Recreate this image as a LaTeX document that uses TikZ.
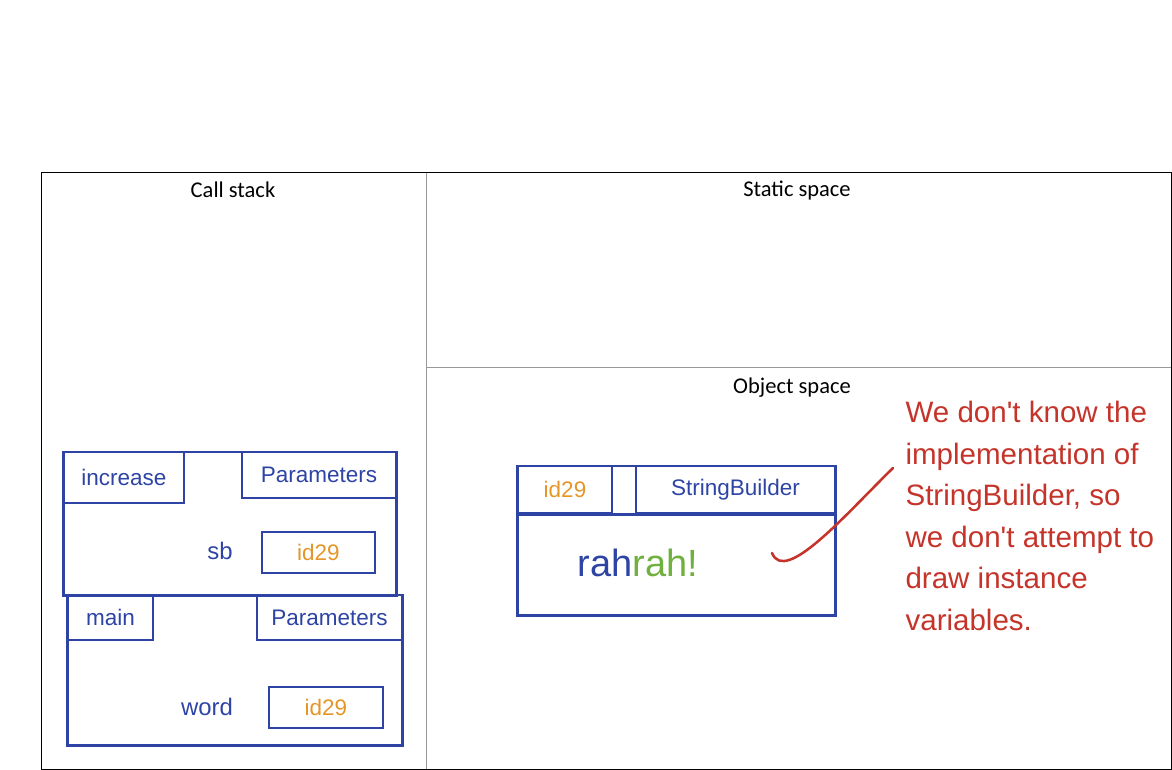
\documentclass[tikz,border=0pt]{standalone}
\usepackage{fontspec}
\setmainfont{Carlito}
\newfontfamily\handfont{Liberation Sans}
\definecolor{inkblue}{RGB}{45,68,165}
\definecolor{inkorange}{RGB}{228,150,40}
\definecolor{inkgreen}{RGB}{112,176,62}
\definecolor{inkred}{RGB}{196,52,42}
\tikzset{
  heading/.style={font=\fontsize{16}{19}\selectfont},
  hand/.style={draw=inkblue, line width=2.1pt, inner sep=0pt, text=inkblue,
    font=\handfont\fontsize{16}{19}\selectfont},
  idval/.style={hand, text=inkorange},
  word/.style={text=inkblue, font=\handfont\fontsize{17}{20}\selectfont},
}
\begin{document}
\begin{tikzpicture}[x=0.025cm, y=-0.025cm, thick]
\useasboundingbox (0,0) rectangle (1172,770);

% panels
\draw[gray!80, line width=0.6pt] (426,172) -- (426,769);
\draw[gray!80, line width=0.6pt] (426,367) -- (1171,367);
\draw[black, line width=0.7pt] (41,172) rectangle (1171,769);

\node[heading] (callstack) at (233,190){Call stack};
\node[heading] (static) at (797,191){Static space};
\node[heading] (objspace) at (792,388){Object space};

% call stack frames
\node[hand, minimum width=8.3cm, minimum height=3.575cm] (incframe) at (230,523.5){};
\node[hand, minimum width=8.35cm, minimum height=3.75cm] (mainframe) at (235,670){};

\node[hand, minimum width=3cm, minimum height=1.275cm] (inc) at (124,477.5){increase};
\node[hand, minimum width=3.85cm, minimum height=1.15cm] (incpar) at (319,475){Parameters};
\node[word] (sb) at (220,551){sb};
\node[idval, minimum width=2.825cm, minimum height=1.025cm] (sbval) at (318.5,552.5){id29};

\node[hand, minimum width=2.125cm, minimum height=1.125cm] (main) at (110.5,617.5){main};
\node[hand, minimum width=3.625cm, minimum height=1.125cm] (mainpar) at (329.5,617.5){Parameters};
\node[word] (wordlbl) at (207,707){word};
\node[idval, minimum width=2.85cm, minimum height=1.025cm] (wordval) at (326,707.5){id29};

% object
\node[hand, minimum width=7.925cm, minimum height=3.725cm] (obj) at (676.5,540.5){};
\node[idval, minimum width=2.35cm, minimum height=1.175cm] (objid) at (565,489.5){id29};
\node[hand, minimum width=4.975cm, minimum height=1.175cm] (objcls) at (735.5,489.5){StringBuilder};
\draw[inkblue, line width=2.1pt] (objid.south west) -- (objcls.south east);
\node[font=\handfont\fontsize{27}{30}\selectfont] (content) at (638,563)
  {\color{inkblue}rah\color{inkgreen}rah!};

% note
\node[anchor=north west, align=left, text=inkred, inner sep=0pt,
  font=\handfont\fontsize{21}{29.5}\selectfont] (note) at (905,401)
  {We don't know the\\implementation of\\StringBuilder, so\\we don't attempt to\\draw instance\\variables.};
\coordinate (hook) at (772,553);
\coordinate (tail) at (893,468);
\draw[inkred, line width=1.8pt, line cap=round] (tail) .. controls (845,515) and (785,585) .. (hook);
\end{tikzpicture}
\end{document}
